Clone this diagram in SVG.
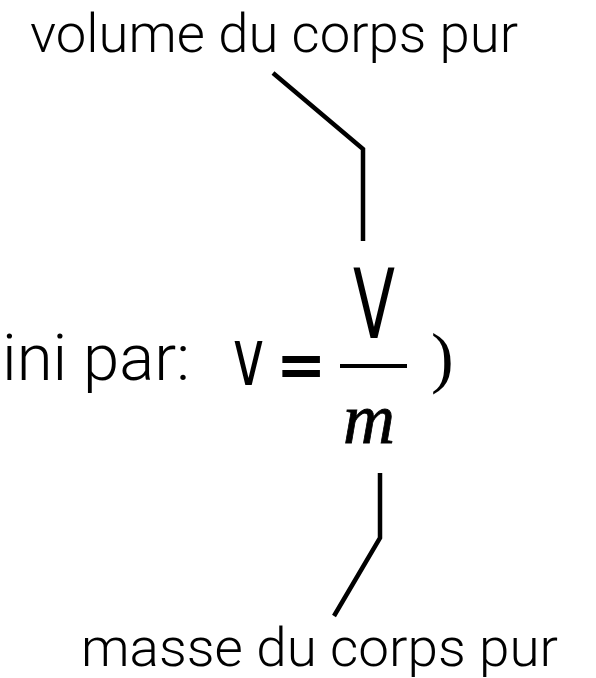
<svg xmlns="http://www.w3.org/2000/svg" width="596" height="678" viewBox="0 0 596 678">
<style>
.lbl{font-family:Roboto,"Liberation Sans",Arial,sans-serif;font-weight:300;fill:#000}
.sym{font-family:"DejaVu Sans","Liberation Sans",sans-serif;fill:#000}
.ser{font-family:"Liberation Serif","Times New Roman",serif;fill:#000}
.conn{fill:none;stroke:#000;stroke-width:4.5;stroke-linecap:butt;stroke-linejoin:miter}
</style>
<rect width="596" height="678" fill="#fff"/>
<g id="label-volume">
<text class="lbl" x="30" y="52" font-size="54" textLength="488" lengthAdjust="spacingAndGlyphs">volume du corps pur</text>
</g>
<g id="formula">
<text class="lbl" x="2" y="380" font-size="64" textLength="188" lengthAdjust="spacingAndGlyphs">ini par:</text>
<text class="sym" x="233" y="385" font-size="80" textLength="31" lengthAdjust="spacingAndGlyphs">v</text>
<text class="sym" x="276" y="386" font-size="60" font-weight="bold">=</text>
<text class="sym" x="353" y="338" font-size="96" textLength="42" lengthAdjust="spacingAndGlyphs">V</text>
<line x1="340" y1="366" x2="407" y2="366" stroke="#000" stroke-width="4"/>
<text class="ser" x="431" y="380" font-size="68">)</text>
<text class="ser" x="343" y="443" font-size="72" font-style="italic" stroke="#000" stroke-width="0.8">m</text>
</g>
<g id="label-masse">
<text class="lbl" x="81" y="666" font-size="54" textLength="477" lengthAdjust="spacingAndGlyphs">masse du corps pur</text>
</g>
<g id="connectors">
<polyline class="conn" points="273,73 363,149 363,241"/>
<polyline class="conn" points="380,473 380,538 334,616"/>
</g>
</svg>
